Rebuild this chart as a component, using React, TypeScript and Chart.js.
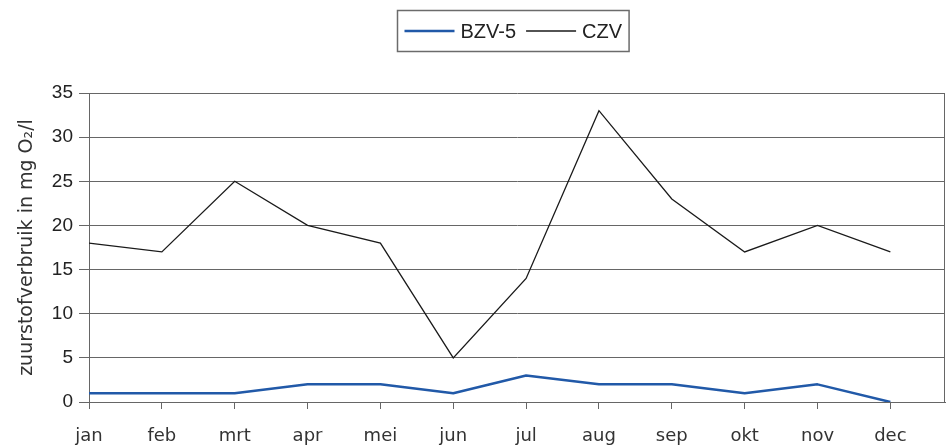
import React, { useEffect, useRef } from 'react';
import { Chart, registerables } from 'chart.js';

Chart.register(...registerables);

const months = ['jan', 'feb', 'mrt', 'apr', 'mei', 'jun', 'jul', 'aug', 'sep', 'okt', 'nov', 'dec'];
const bzv5 = [1, 1, 1, 2, 2, 1, 3, 2, 2, 1, 2, 0];
const czv = [18, 17, 25, 20, 18, 5, 14, 33, 23, 17, 20, 17];
const seriesLabels = ['BZV-5', 'CZV'];
const yMin = 0;
const yMax = 35;
const yStep = 5;
const yTitle = 'zuurstofverbruik in mg O\u2082/l';

const boxLegend = {
  id: 'boxLegend',
  afterDraw(chart: any) {
    const ctx = chart.ctx as CanvasRenderingContext2D;
    ctx.save();
    ctx.font = '20px "Liberation Sans", Arial, sans-serif';
    const items = chart.data.datasets.map((ds: any) => ({
      label: ds.label,
      color: ds.borderColor,
      width: ds.borderWidth,
      tw: ctx.measureText(ds.label).width,
    }));
    const pad = 7, lineLen = 50, gap = 6, itemGap = 10;
    const total =
      pad * 2 +
      items.reduce((s: number, it: any) => s + lineLen + gap + it.tw, 0) +
      itemGap * (items.length - 1);
    const cx = (chart.chartArea.left + chart.chartArea.right) / 2 - 4;
    const x0 = Math.round(cx - total / 2) + 0.5;
    const top = 10.5, h = 41;
    ctx.strokeStyle = '#6b6b6b';
    ctx.lineWidth = 1.5;
    ctx.strokeRect(x0, top, total, h);
    let x = x0 + pad;
    const cy = top + h / 2;
    items.forEach((it: any) => {
      ctx.strokeStyle = it.color;
      ctx.lineWidth = it.width;
      ctx.beginPath();
      ctx.moveTo(x, cy);
      ctx.lineTo(x + lineLen, cy);
      ctx.stroke();
      x += lineLen + gap;
      ctx.fillStyle = '#222';
      ctx.textBaseline = 'middle';
      ctx.textAlign = 'left';
      ctx.fillText(it.label, x, cy + 1);
      x += it.tw + itemGap;
    });
    ctx.restore();
  },
};

const frame = {
  id: 'frame',
  beforeDatasetsDraw(chart: any) {
    const { ctx, chartArea } = chart;
    ctx.save();
    ctx.strokeStyle = '#666';
    ctx.lineWidth = 1;
    ctx.beginPath();
    const xr = Math.round(chartArea.right) - 0.5;
    ctx.moveTo(xr, chartArea.top);
    ctx.lineTo(xr, chartArea.bottom);
    ctx.stroke();
    ctx.restore();
  },
};

export default function App() {
  const ref = useRef<HTMLCanvasElement>(null);
  useEffect(() => {
    document.body.style.margin = '0';
    const canvas = ref.current!;
    const chart = new Chart(canvas, {
      type: 'line',
      data: {
        datasets: [
          {
            label: seriesLabels[0],
            data: bzv5.map((v, i) => ({ x: i, y: v })),
            borderColor: '#2159a8',
            borderWidth: 2.5,
            pointRadius: 0,
            tension: 0,
            borderJoinStyle: 'round',
          },
          {
            label: seriesLabels[1],
            data: czv.map((v, i) => ({ x: i, y: v })),
            borderColor: '#1a1a1a',
            borderWidth: 1.3,
            pointRadius: 0,
            tension: 0,
          },
        ],
      },
      options: {
        animation: false,
        responsive: false,
        devicePixelRatio: 1,
        layout: { padding: { top: 93, right: 6, left: 0, bottom: 0 } },
        plugins: {
          legend: { display: false },
          tooltip: { enabled: false },
        },
        scales: {
          x: {
            type: 'linear',
            min: 0,
            max: 11.75,
            afterBuildTicks: (s: any) => {
              s.ticks = months.map((_, i) => ({ value: i }));
            },
            afterFit: (s: any) => {
              s.height = 44;
            },
            ticks: {
              autoSkip: false,
              maxRotation: 0,
              padding: 17,
              color: '#333',
              font: { family: '"DejaVu Sans", sans-serif', size: 18 },
              callback: (v: any) => months[Math.round(Number(v))] ?? '',
            },
            grid: {
              drawOnChartArea: false,
              drawTicks: true,
              tickLength: 7,
              color: '#666',
            },
            border: { display: true, color: '#666', width: 1 },
          },
          y: {
            min: yMin,
            max: yMax,
            afterFit: (s: any) => {
              s.width = 89;
            },
            ticks: {
              stepSize: yStep,
              padding: 6,
              color: '#222',
              font: { family: '"Liberation Sans", Arial, sans-serif', size: 19 },
            },
            grid: {
              color: '#666',
              lineWidth: 1,
              tickLength: 10,
            },
            border: { display: true, color: '#666', width: 1 },
            title: {
              display: true,
              text: yTitle,
              color: '#333',
              font: { family: '"DejaVu Sans", sans-serif', size: 19 },
              padding: { top: 16, bottom: 0 },
            },
          },
        },
      },
      plugins: [boxLegend, frame],
    } as any);
    return () => chart.destroy();
  }, []);
  return <canvas ref={ref} width={951} height={446} style={{ display: 'block' }} />;
}
